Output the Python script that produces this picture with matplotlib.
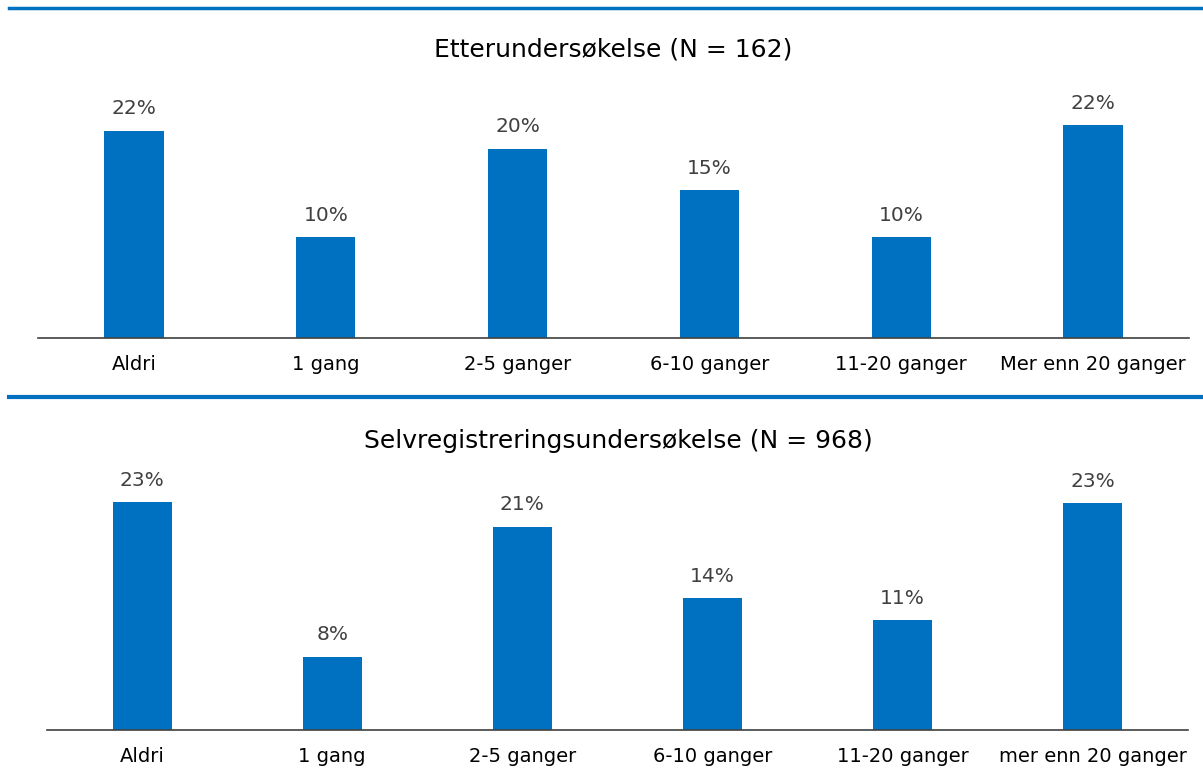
import numpy as np
import matplotlib.pyplot as plt
from matplotlib.lines import Line2D

plt.rcParams['font.family'] = ['DejaVu Sans']

cats_top = ['Aldri', '1 gang', '2-5 ganger', '6-10 ganger', '11-20 ganger', 'Mer enn 20 ganger']
cats_bottom = ['Aldri', '1 gang', '2-5 ganger', '6-10 ganger', '11-20 ganger', 'mer enn 20 ganger']
vals_top = [21.6, 10.49, 19.75, 15.43, 10.49, 22.2]
vals_bottom = [23.4, 7.54, 20.9, 13.53, 11.3, 23.3]
title_top = 'Etterundersøkelse (N = 162)'
title_bottom = 'Selvregistreringsundersøkelse (N = 968)'

blue = '#0070C0'
W, H = 1203, 781

fig = plt.figure(figsize=(W / 100, H / 100), dpi=100)


def px_axes(left, right, top, bottom):
    return fig.add_axes([left / W, (H - bottom) / H, (right - left) / W, (bottom - top) / H])


def draw(ax, cats, vals, ymax):
    x = np.arange(len(cats))
    ax.bar(x, vals, width=0.31, color=blue)
    for xi, v in zip(x, vals):
        ax.annotate(f'{v:.0f}%', (xi, v), xytext=(0, 9), textcoords='offset points',
                    ha='center', va='bottom', fontsize=14.5, color='#404040')
    ax.set_xlim(-0.5, len(cats) - 0.5)
    ax.set_ylim(0, ymax)
    ax.set_xticks(x)
    ax.set_xticklabels(cats, fontsize=14, color='black')
    ax.tick_params(axis='x', length=0, pad=12.5)
    ax.set_yticks([])
    for s in ['top', 'right', 'left']:
        ax.spines[s].set_visible(False)
    ax.spines['bottom'].set_color('#404040')
    ax.spines['bottom'].set_linewidth(1.2)
    ax.set_facecolor('none')
    return ax


ax1 = px_axes(38, 1189, 70, 338)
draw(ax1, cats_top, vals_top, 268 / 9.59)
ax2 = px_axes(47, 1188, 470, 730)
draw(ax2, cats_bottom, vals_bottom, 260 / 9.73)

fig.text(613 / W, 1 - 49 / H, title_top, ha='center', va='center', fontsize=18, color='black')
fig.text(618 / W, 1 - 441 / H, title_bottom, ha='center', va='center', fontsize=18, color='black')

# blue separator lines
fig.add_artist(Line2D([9 / W, 1], [1 - 8 / H, 1 - 8 / H], color=blue, lw=2.5, transform=fig.transFigure))
fig.add_artist(Line2D([9 / W, 1], [1 - 397 / H, 1 - 397 / H], color=blue, lw=3, transform=fig.transFigure))

fig.savefig('out.png', dpi=100, facecolor='white')
